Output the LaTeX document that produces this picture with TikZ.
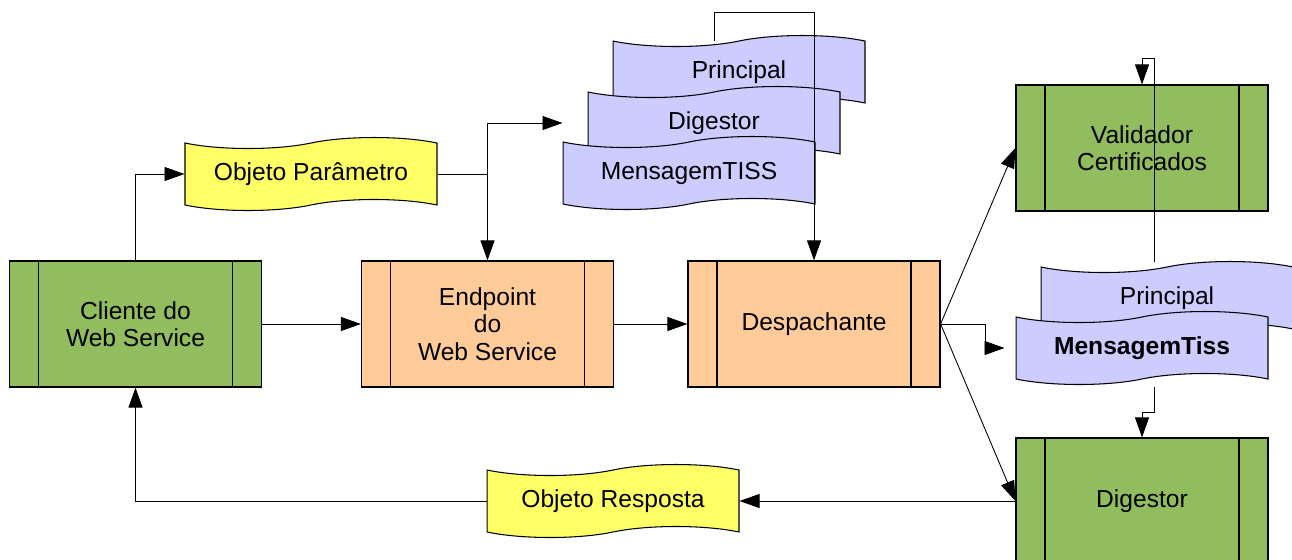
\documentclass[tikz,border=0pt]{standalone}
\usepackage{fontspec}
\setmainfont{Liberation Sans}
\usetikzlibrary{shapes.symbols,arrows.meta}

\definecolor{verde}{RGB}{146,189,94}
\definecolor{salmao}{RGB}{255,204,153}
\definecolor{lilas}{RGB}{204,204,255}
\definecolor{amarelo}{RGB}{255,255,102}

\tikzset{
  processo/.style={draw, rectangle, line width=0.7pt, minimum width=5.04cm, minimum height=2.52cm, align=center,
    path picture={
      \draw ([xshift=0.58cm]path picture bounding box.south west) -- ([xshift=0.58cm]path picture bounding box.north west);
      \draw ([xshift=-0.58cm]path picture bounding box.south east) -- ([xshift=-0.58cm]path picture bounding box.north east);
    }},
  documento/.style={draw, tape, tape bend height=0.22cm, minimum width=5.04cm, minimum height=1.46cm, line width=0.6pt},
  seta/.style={-{Triangle[length=0.4cm,width=0.28cm]}, line width=0.5pt},
}

\begin{document}
\begin{tikzpicture}[x=0.02cm, y=-0.02cm, font=\fontsize{14pt}{15.7pt}\selectfont]
          \useasboundingbox (0,0) rectangle (1292,559);

          % Nodes
          \node[processo, fill=verde] (cliente) at (135.5,324) {Cliente do\\Web Service};
          \node[processo, fill=salmao] (endpoint) at (487.5,324) {Endpoint\\do\\Web Service};
          \node[processo, fill=salmao] (despachante) at (814,324) {Despachante};
          \node[processo, fill=verde] (validador) at (1142,148) {Validador\\Certificados};
          \node[processo, fill=verde] (digestor) at (1142,501) {Digestor};

          \node[documento, fill=amarelo] (parametro) at (311,174) {Objeto Parâmetro};
          \node[documento, fill=amarelo] (resposta) at (613,501) {Objeto Resposta};
          \node[documento, fill=lilas] (principal) at (739,72) {Principal};
          \node[documento, fill=lilas] (digtiss) at (714,123) {Digestor};
          \node[documento, fill=lilas] (mensagem) at (689,173) {MensagemTISS};
          \node[documento, fill=lilas] (principal2) at (1167,298) {Principal};
          \node[documento, fill=lilas] (mensagem2) at (1142,348) {\textbf{MensagemTiss}};

          \coordinate (saida1) at (1154,262);
          \coordinate (saida2) at (1154,387);

          % Arrows
          \draw[seta] (cliente.north) |- (parametro.west);
          \draw[seta] (parametro.east) -| (endpoint.north);
          \draw[seta] (parametro.east -| endpoint.north) |- (mensagem.west |- digtiss.west);
          \draw[seta] (cliente) -- (endpoint);
          \draw[seta] (endpoint) -- (despachante);
          \draw[seta] (digtiss.north |- principal.north) -- ++(0,-28) -| (despachante.north);
          \draw[seta] (despachante.east) -- (validador.west);
          \draw[seta] (despachante.east) -- (digestor.west);
          \draw[seta] (despachante.east) -- ++(45,0) |- ([xshift=-0.22cm]mensagem2.west);
          \draw[seta] (digestor.west) -- (digestor.west -| resposta.east);
          \draw[seta] (resposta.west) -| (cliente.south);
          \draw[seta] (saida1) |- ([yshift=0.52cm]validador.north) -- (validador.north);
          \draw[seta] (saida2) -- ++(0,25) -| (digestor.north);
        \end{tikzpicture}
\end{document}
